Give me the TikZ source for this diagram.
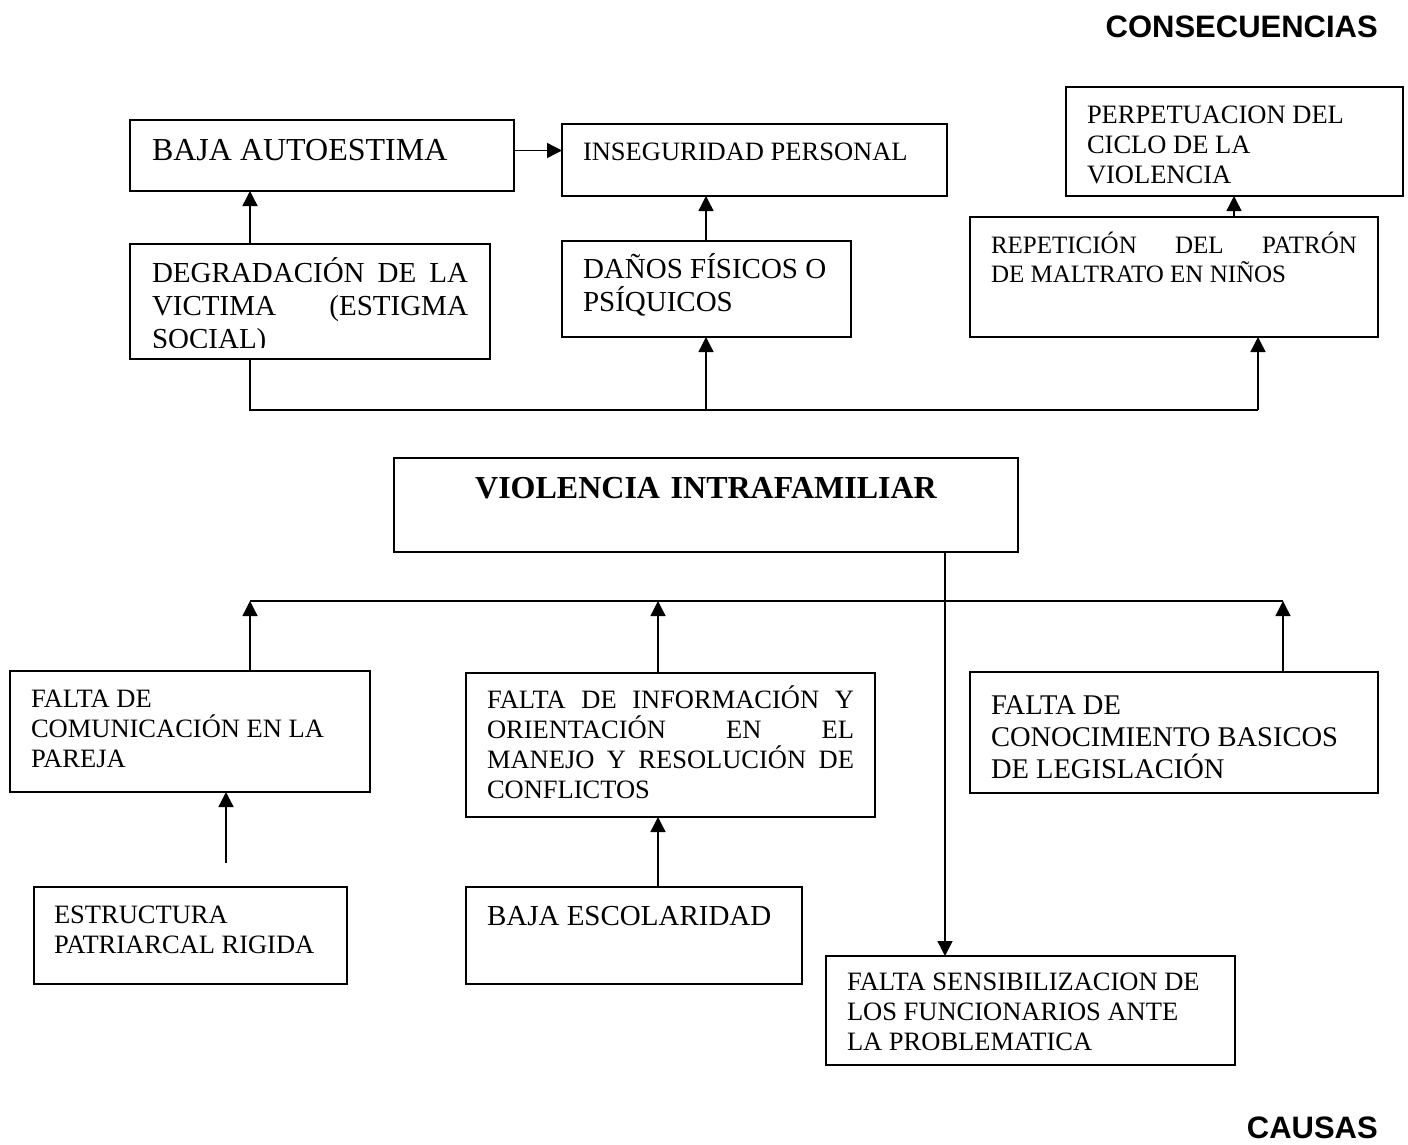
\documentclass[tikz,border=0pt]{standalone}
\usepackage{fontspec}
\setmainfont{Liberation Serif}
\newfontfamily\arialfont{Liberation Sans}
\usetikzlibrary{arrows.meta}

\newcommand{\letraA}{\fontsize{26.5pt}{30pt}\selectfont}
\newcommand{\letraR}{\fontsize{25pt}{29pt}\selectfont}
\newcommand{\letraB}{\fontsize{29pt}{33pt}\selectfont}
\newcommand{\letraK}{\fontsize{28.5pt}{32pt}\selectfont}
\newcommand{\letraC}{\fontsize{32pt}{36pt}\selectfont}
\newcommand{\letraT}{\arialfont\bfseries\fontsize{31pt}{36pt}\selectfont}

\tikzset{
  caja/.style={draw, line width=1.8pt, anchor=north west, outer sep=0pt,
    inner ysep=0pt, inner xsep=21pt, align=justify, font=\letraA},
  flecha/.style={-{Triangle[length=15pt,width=15pt]}, line width=1.4pt},
  linea/.style={line width=1.4pt}
}

\begin{document}
\begin{tikzpicture}[x=1pt,y=-1pt]
\useasboundingbox (0,0) rectangle (1408,1144);

\node[anchor=base east, inner sep=0pt, font=\letraT] (tcons) at (1378,37) {CONSECUENCIAS};
\node[anchor=base east, inner sep=0pt, font=\letraT] (tcaus) at (1378,1138) {CAUSAS};

\node[caja, font=\letraC, inner xsep=22pt, text width=340pt, text height=40pt, text depth=31pt] (baja) at (130,120) {BAJA AUTOESTIMA};
\node[caja, text width=343pt, text height=36pt, text depth=36pt] (inseg) at (562,124) {INSEGURIDAD PERSONAL};
\node[caja, font=\letraB, inner xsep=22pt, text width=316pt, text height=38pt, text depth=77pt] (deg) at (130,244)
  {DEGRADACIÓN\hfill DE\hfill LA\\ VICTIMA\hfill (ESTIGMA\\ SOCIAL)};
\fill[white] (131.5,347.5) rectangle (488.5,357.6);
\node[caja, font=\letraB, text width=247pt, text height=37pt, text depth=59pt] (danos) at (562,241) {DAÑOS FÍSICOS O\\ PSÍQUICOS};
\node[caja, text width=295pt, text height=36pt, text depth=73pt] (perp) at (1066,87) {PERPETUACION DEL\\ CICLO DE LA\\ VIOLENCIA};
\node[caja, font=\letraR, text width=366pt, text height=36pt, text depth=84pt] (rep) at (970,217)
  {REPETICIÓN\hfill DEL\hfill PATRÓN\\ DE MALTRATO EN NIÑOS};

\node[caja, font=\letraC\bfseries, align=center, text width=582pt, text height=40pt, text depth=54pt] (viol) at (394,458) {VIOLENCIA INTRAFAMILIAR};

\node[caja, text width=318pt, text height=36pt, text depth=85pt] (comun) at (10,671) {FALTA DE\\ COMUNICACIÓN EN LA\\ PAREJA};
\node[caja, inner xsep=20pt, text width=273pt, text height=36pt, text depth=61pt] (estr) at (34,887) {ESTRUCTURA\\ PATRIARCAL RIGIDA};
\node[caja, text width=367pt, text height=35pt, text depth=109pt] (info) at (466,673)
  {FALTA\hfill DE\hfill INFORMACIÓN\hfill Y\\ ORIENTACIÓN\hfill EN\hfill EL\\ MANEJO\hfill Y\hfill RESOLUCIÓN\hfill DE\\ CONFLICTOS};
\node[caja, font=\letraB, text width=294pt, text height=38pt, text depth=59pt] (escol) at (466,887) {BAJA ESCOLARIDAD};
\node[caja, font=\letraK, text width=366pt, text height=42pt, text depth=79pt] (conoc) at (970,672) {FALTA DE\\ CONOCIMIENTO BASICOS\\ DE LEGISLACIÓN};
\node[caja, text width=367pt, text height=34pt, text depth=75pt] (sens) at (826,956) {FALTA SENSIBILIZACION DE\\ LOS FUNCIONARIOS ANTE\\ LA PROBLEMATICA};

\coordinate (bA) at (250,410);
\coordinate (bB) at (706,410);
\coordinate (bC) at (1258,410);
\coordinate (pA) at (1234,0);
\coordinate (cA) at (250,601);
\coordinate (cB) at (658,601);
\coordinate (cC) at (1283,601);
\coordinate (eA) at (226,863);
\coordinate (vA) at (945,0);

\draw[flecha] ([yshift=5pt]baja.east) -- ([yshift=5pt]baja.east -| inseg.west);
\draw[flecha] (bA |- deg.north) -- (bA |- baja.south);
\draw[flecha] (bB |- danos.north) -- (bB |- inseg.south);
\draw[flecha] (pA |- rep.north) -- (pA |- perp.south);
\draw[linea] (bA |- deg.south) -- (bA) -- (bC);
\draw[flecha] (bB) -- (bB |- danos.south);
\draw[flecha] (bC) -- (bC |- rep.south);

\draw[linea] (cA) -- (cC);
\draw[flecha] (cA |- comun.north) -- (cA);
\draw[flecha] (cB |- info.north) -- (cB);
\draw[flecha] (cC |- conoc.north) -- (cC);
\draw[flecha] (eA) -- (eA |- comun.south);
\draw[flecha] (cB |- escol.north) -- (cB |- info.south);
\draw[flecha] (vA |- viol.south) -- (vA |- sens.north);
\end{tikzpicture}
\end{document}
